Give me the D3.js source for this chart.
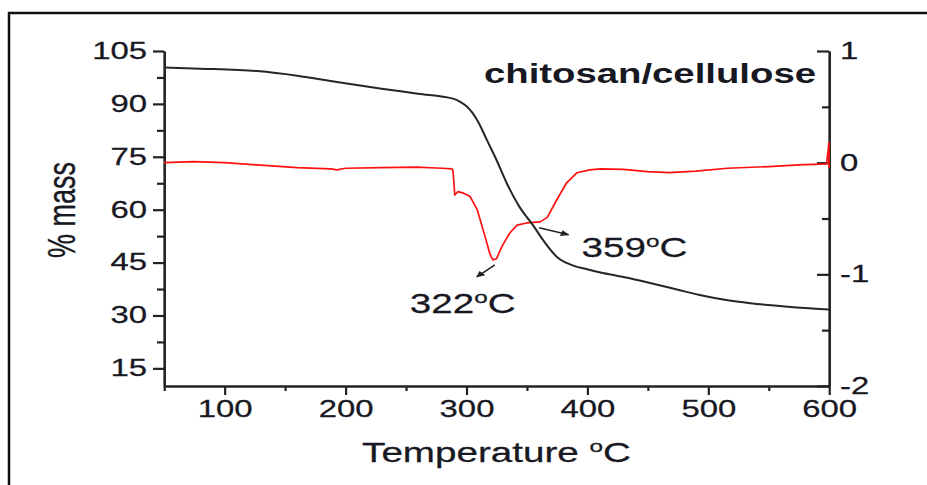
<!DOCTYPE html>
<html>
<head>
<meta charset="utf-8">
<script src="https://cdn.jsdelivr.net/npm/d3@7/dist/d3.min.js"></script>
<style>
  html, body { margin: 0; padding: 0; background: #fff; }
  svg { display: block; font-family: "Liberation Sans", Arial, sans-serif; }
  .ln { vector-effect: non-scaling-stroke; }
</style>
</head>
<body>
<svg id="chart"></svg>
<script>
// TG curve: % mass vs temperature
var tgTemp = [50, 80, 127, 160, 193, 230, 260, 289, 295, 300, 305, 310, 317, 325, 333.5, 344, 355, 363.5, 375, 388, 400, 411, 430, 452, 475, 493, 515, 535, 555, 576, 600];
var tgMass = [100.3, 100.0, 99.3, 98.0, 96.2, 94.3, 92.9, 91.5, 90.6, 89.4, 87.5, 84.8, 79.8, 74.1, 67.5, 60.8, 55.7, 51.4, 46.6, 44.2, 43.1, 42.2, 40.9, 39.2, 37.3, 35.8, 34.4, 33.5, 32.8, 32.2, 31.7];

// DTG curve (right axis)
var dtgTemp = [50, 75, 100, 127, 160, 188, 193, 200, 230, 259, 280, 288, 289, 290.5, 293, 297, 303, 309, 315.5, 319.6, 322, 325, 329.5, 336, 342, 350, 361, 367, 375, 383, 391.6, 402, 411, 430, 450, 468, 490, 516, 550, 575, 598, 600, 600];
var dtgVal  = [0.00, 0.01, 0.0, -0.02, -0.045, -0.055, -0.065, -0.05, -0.045, -0.04, -0.05, -0.055, -0.07, -0.29, -0.26, -0.27, -0.30, -0.42, -0.66, -0.82, -0.87, -0.86, -0.75, -0.63, -0.56, -0.54, -0.53, -0.49, -0.33, -0.18, -0.09, -0.065, -0.055, -0.06, -0.08, -0.09, -0.075, -0.05, -0.035, -0.02, -0.01, 0.18, -0.05];

// tick labels
var xMajor = [100, 200, 300, 400, 500, 600];
var xMinor = [50, 150, 250, 350, 450, 550];
var leftMajor = [105, 90, 75, 60, 45, 30, 15];
var leftMinor = [97.5, 82.5, 67.5, 52.5, 37.5, 22.5];
var rightMajor = [1, 0, -1, -2];
var rightMinor = [0.5, -0.5, -1.5];

// annotated peaks
var peakTemp = [322, 359];
var peakVal = [-0.87, -0.53];
var peakLabel = ['322', '359'];

var W = 927, H = 485;
var SX = 1.43; // the figure is stretched horizontally

var svg = d3.select('#chart').attr('width', W).attr('height', H);

// outer frame (only top and left edges are visible)
svg.append('path')
    .attr('d', 'M9,' + H + 'V13H' + W)
    .attr('fill', 'none')
    .attr('stroke', '#111')
    .attr('stroke-width', 2.5);

var g = svg.append('g').attr('transform', 'scale(' + SX + ',1)');

var x = d3.scaleLinear().domain([50, 600]).range([164 / SX, 829 / SX]);
var yL = d3.scaleLinear().domain([10, 105]).range([386, 51]);
var yR = d3.scaleLinear().domain([-2, 1]).range([386, 51]);

var textColor = '#181822';

function styleAxis(sel) {
  sel.selectAll('path, line').attr('stroke', '#222').attr('stroke-width', 2.2).attr('class', 'ln');
  sel.selectAll('text').attr('fill', textColor).style('font-size', '23px')
      .attr('stroke', textColor).attr('stroke-width', 0.25);
}

// left axis
g.append('g').attr('transform', 'translate(' + x(50) + ',0)')
    .call(d3.axisLeft(yL).tickValues(leftMajor).tickSize(11 / SX).tickSizeOuter(0).tickPadding(6 / SX))
    .call(styleAxis);
g.append('g').attr('transform', 'translate(' + x(50) + ',0)')
    .call(d3.axisLeft(yL).tickValues(leftMinor).tickSize(7 / SX).tickSizeOuter(0).tickFormat(''))
    .call(styleAxis)
    .select('.domain').remove();

// bottom axis
g.append('g').attr('transform', 'translate(0,' + yL(10) + ')')
    .call(d3.axisBottom(x).tickValues(xMajor).tickSize(9).tickSizeOuter(0).tickPadding(6))
    .call(styleAxis);
g.append('g').attr('transform', 'translate(0,' + yL(10) + ')')
    .call(d3.axisBottom(x).tickValues(xMinor).tickSize(5).tickSizeOuter(0).tickFormat(''))
    .call(styleAxis)
    .select('.domain').remove();

// right axis, ticks pointing inward
g.append('g').attr('transform', 'translate(' + x(600) + ',0)')
    .call(d3.axisRight(yR).tickValues(rightMajor).tickSizeInner(-12 / SX).tickSizeOuter(0)
      .tickPadding(11 / SX).tickFormat(function(d) { return String(d); }))
    .call(styleAxis);
g.append('g').attr('transform', 'translate(' + x(600) + ',0)')
    .call(d3.axisRight(yR).tickValues(rightMinor).tickSizeInner(-7 / SX).tickSizeOuter(0).tickFormat(''))
    .call(styleAxis)
    .select('.domain').remove();

// curves
var tgData = tgTemp.map(function(t, i) { return [t, tgMass[i]]; });
var dtgData = dtgTemp.map(function(t, i) { return [t, dtgVal[i]]; });

g.append('path')
    .datum(dtgData)
    .attr('class', 'ln')
    .attr('fill', 'none')
    .attr('stroke', '#ff1010')
    .attr('stroke-width', 1.7)
    .attr('stroke-linejoin', 'round')
    .attr('d', d3.line().x(function(d) { return x(d[0]); }).y(function(d) { return yR(d[1]); }));

g.append('path')
    .datum(tgData)
    .attr('class', 'ln')
    .attr('fill', 'none')
    .attr('stroke', '#262626')
    .attr('stroke-width', 2)
    .attr('d', d3.line().curve(d3.curveMonotoneX).x(function(d) { return x(d[0]); }).y(function(d) { return yL(d[1]); }));

// arrowhead
svg.append('defs').append('marker')
    .attr('id', 'head')
    .attr('viewBox', '0 0 10 10')
    .attr('refX', 9).attr('refY', 5)
    .attr('markerWidth', 9).attr('markerHeight', 6)
    .attr('markerUnits', 'userSpaceOnUse')
    .attr('orient', 'auto')
  .append('path')
    .attr('d', 'M0,0L10,5L0,10Z')
    .attr('fill', '#222');

// annotation offsets, in screen pixels from the peak
var arrowFrom = [[2, 5], [1.5, 6]];
var arrowTo = [[-16, 17], [31, 13]];
var labelAt = [[-83, 53], [44, 35]];

function degLabel(sel, num, size) {
  sel.append('tspan').text(num);
  sel.append('tspan').text('o').style('font-size', Math.round(size * 0.62) + 'px').attr('dy', -size * 0.38);
  sel.append('tspan').text('C').attr('dy', size * 0.38);
}

peakTemp.forEach(function(t, i) {
  var px = x(t), py = yR(peakVal[i]);
  g.append('line')
      .attr('class', 'ln')
      .attr('x1', px + arrowFrom[i][0] / SX).attr('y1', py + arrowFrom[i][1])
      .attr('x2', px + arrowTo[i][0] / SX).attr('y2', py + arrowTo[i][1])
      .attr('stroke', '#222').attr('stroke-width', 1.5)
      .attr('marker-end', 'url(#head)');
  g.append('text')
      .attr('x', px + labelAt[i][0] / SX).attr('y', py + labelAt[i][1])
      .attr('fill', textColor)
      .attr('stroke', textColor).attr('stroke-width', 0.25)
      .style('font-size', '27px')
      .call(degLabel, peakLabel[i], 27);
});

// texts
g.append('text')
    .attr('x', 816 / SX).attr('y', 83)
    .attr('text-anchor', 'end')
    .attr('fill', textColor)
    .style('font-size', '26.8px').style('font-weight', 'bold')
    .text('chitosan/cellulose');

g.append('text')
    .attr('x', 496.5 / SX).attr('y', 462)
    .attr('text-anchor', 'middle')
    .attr('fill', textColor)
    .attr('stroke', textColor).attr('stroke-width', 0.25)
    .style('font-size', '27px')
    .call(degLabel, 'Temperature ', 27);

g.append('text')
    .attr('transform', 'translate(' + (75 / SX) + ',210)rotate(-90)')
    .attr('text-anchor', 'middle')
    .attr('fill', textColor)
    .attr('stroke', textColor).attr('stroke-width', 0.25)
    .style('font-size', '27px')
    .text('% mass');
</script>
</body>
</html>
